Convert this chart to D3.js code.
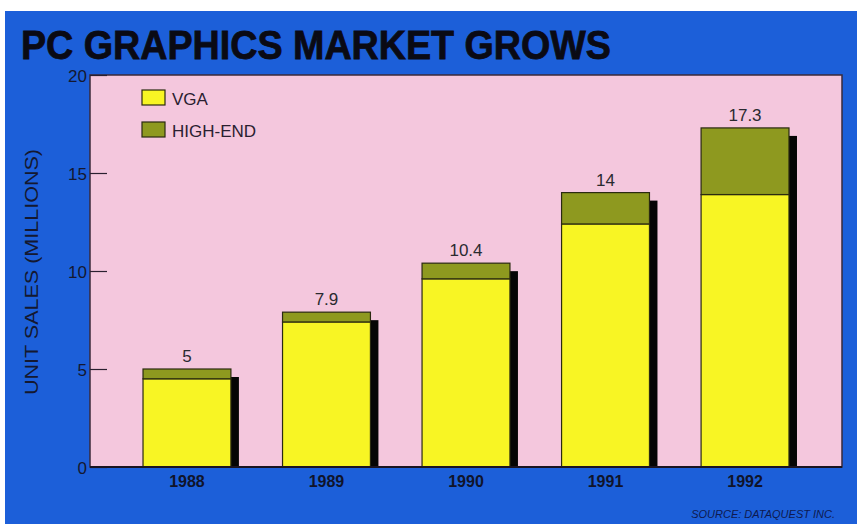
<!DOCTYPE html>
<html>
<head>
<meta charset="utf-8">
<script src="https://cdn.jsdelivr.net/npm/d3@7"></script>
<style>
  body { margin: 0; background: #fff; }
  svg { display: block; }
</style>
</head>
<body>
<div id="chart"></div>
<script>
const years = ["1988", "1989", "1990", "1991", "1992"];
const vga = [4.5, 7.4, 9.6, 12.4, 13.9];
const highEnd = [0.5, 0.5, 0.8, 1.6, 3.4];
const totals = ["5", "7.9", "10.4", "14", "17.3"];
const yTicks = [0, 5, 10, 15, 20];

const width = 857, height = 524;
const plot = { left: 90, right: 842, top: 75, bottom: 467 };

const svg = d3.select("#chart").append("svg")
  .attr("width", width)
  .attr("height", height);

// blue panel
svg.append("rect")
  .attr("x", 5).attr("y", 11)
  .attr("width", width - 5).attr("height", height - 11)
  .attr("fill", "#1c5fd9");

svg.append("text")
  .attr("x", 21).attr("y", 59)
  .attr("textLength", 590)
  .attr("lengthAdjust", "spacingAndGlyphs")
  .style("font-family", "'Liberation Sans', Arial, sans-serif")
  .style("font-weight", "bold")
  .style("font-size", "41px")
  .style("fill", "#0a0a14")
  .style("stroke", "#0a0a14")
  .style("stroke-width", 0.8)
  .text("PC GRAPHICS MARKET GROWS");

// pink plot area
svg.append("rect")
  .attr("x", plot.left).attr("y", plot.top)
  .attr("width", plot.right - plot.left).attr("height", plot.bottom - plot.top)
  .attr("fill", "#f4c7dd")
  .attr("stroke", "#3a2a3a")
  .attr("stroke-width", 1.5);

const x = d3.scaleBand()
  .domain(years)
  .range([plot.left, plot.right])
  .paddingInner(0.37)
  .paddingOuter(0.38);

const y = d3.scaleLinear()
  .domain([0, 20])
  .range([plot.bottom, plot.top]);

// y axis
const yAxis = svg.append("g")
  .attr("transform", "translate(" + plot.left + ",0)")
  .call(d3.axisRight(y).tickValues(yTicks).tickSize(17).tickFormat(""));
yAxis.select(".domain").remove();
yAxis.selectAll("line").attr("stroke", "#2a2030").attr("stroke-width", 1.2);

svg.append("g").selectAll("text")
  .data(yTicks)
  .enter().append("text")
  .attr("x", plot.left - 3)
  .attr("y", d => y(d) + 7)
  .attr("text-anchor", "end")
  .style("font-family", "'Liberation Sans', Arial, sans-serif")
  .style("font-size", "17px")
  .style("fill", "#141830")
  .text(d => d);

const labelY = 272;
svg.append("text")
  .attr("transform", "translate(38," + labelY + ") rotate(-90)")
  .attr("text-anchor", "middle")
  .attr("textLength", 246)
  .attr("lengthAdjust", "spacingAndGlyphs")
  .style("font-family", "'Liberation Sans', Arial, sans-serif")
  .style("font-size", "18px")
  .style("fill", "#141830")
  .text("UNIT SALES (MILLIONS)");

const bars = svg.append("g");
const shadow = 8;

// shadows
bars.selectAll(".shadow")
  .data(years)
  .enter().append("rect")
  .attr("class", "shadow")
  .attr("x", d => x(d) + shadow)
  .attr("y", (d, i) => y(vga[i] + highEnd[i]) + shadow)
  .attr("width", x.bandwidth())
  .attr("height", (d, i) => plot.bottom - y(vga[i] + highEnd[i]) - shadow)
  .attr("fill", "#050505");

bars.selectAll(".vga")
  .data(years)
  .enter().append("rect")
  .attr("class", "vga")
  .attr("x", d => x(d))
  .attr("y", (d, i) => y(vga[i]))
  .attr("width", x.bandwidth())
  .attr("height", (d, i) => plot.bottom - y(vga[i]))
  .attr("fill", "#f8f524")
  .attr("stroke", "#2a2a10")
  .attr("stroke-width", 1.2);

bars.selectAll(".high")
  .data(years)
  .enter().append("rect")
  .attr("class", "high")
  .attr("x", d => x(d))
  .attr("y", (d, i) => y(vga[i] + highEnd[i]))
  .attr("width", x.bandwidth())
  .attr("height", (d, i) => y(vga[i]) - y(vga[i] + highEnd[i]))
  .attr("fill", "#8e991f")
  .attr("stroke", "#2a2a10")
  .attr("stroke-width", 1.2);

bars.selectAll(".total")
  .data(years)
  .enter().append("text")
  .attr("class", "total")
  .attr("x", d => x(d) + x.bandwidth() / 2)
  .attr("y", (d, i) => y(vga[i] + highEnd[i]) - 7)
  .attr("text-anchor", "middle")
  .style("font-family", "'Liberation Sans', Arial, sans-serif")
  .style("font-size", "17px")
  .style("fill", "#2a2a30")
  .text((d, i) => totals[i]);

// baseline
svg.append("line")
  .attr("x1", plot.left).attr("x2", plot.right)
  .attr("y1", plot.bottom).attr("y2", plot.bottom)
  .attr("stroke", "#1a1420").attr("stroke-width", 2);

// x labels
svg.append("g").selectAll("text")
  .data(years)
  .enter().append("text")
  .attr("x", d => x(d) + x.bandwidth() / 2)
  .attr("y", plot.bottom + 20)
  .attr("text-anchor", "middle")
  .style("font-family", "'Liberation Sans', Arial, sans-serif")
  .style("font-weight", "bold")
  .style("font-size", "16px")
  .style("fill", "#10142a")
  .text(d => d);

// legend
const legendItems = [["VGA", "#f8f524"], ["HIGH-END", "#8e991f"]];
const legend = svg.append("g").attr("transform", "translate(142,90)");
legend.selectAll("rect")
  .data(legendItems)
  .enter().append("rect")
  .attr("x", 0)
  .attr("y", (d, i) => i * 32)
  .attr("width", 23).attr("height", 15)
  .attr("fill", d => d[1])
  .attr("stroke", "#2a2a10")
  .attr("stroke-width", 1.2);
legend.selectAll("text")
  .data(legendItems)
  .enter().append("text")
  .attr("x", 30)
  .attr("y", (d, i) => i * 32 + 15)
  .style("font-family", "'Liberation Sans', Arial, sans-serif")
  .style("font-size", "17px")
  .style("fill", "#2a2030")
  .text(d => d[0]);

svg.append("text")
  .attr("x", 835).attr("y", 518)
  .attr("text-anchor", "end")
  .style("font-family", "'Liberation Sans', Arial, sans-serif")
  .style("font-style", "italic")
  .style("font-size", "11px")
  .style("fill", "#0e1a50")
  .text("SOURCE: DATAQUEST INC.");
</script>
</body>
</html>
